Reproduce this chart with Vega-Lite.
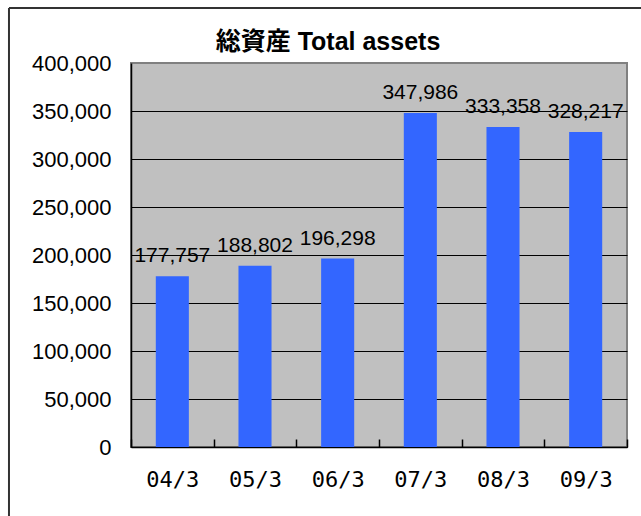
{
  "$schema": "https://vega.github.io/schema/vega-lite/v6.json",
  "width": 496,
  "height": 384,
  "autosize": "none",
  "padding": {"left": 131, "top": 63, "right": 14, "bottom": 69},
  "background": "white",
  "title": {
    "text": "総資産 Total assets",
    "font": "Liberation Sans, Noto Sans CJK JP",
    "fontSize": 25,
    "fontWeight": "bold",
    "color": "black",
    "anchor": "middle",
    "frame": "group",
    "dx": -51,
    "offset": -48
  },
  "datasets": {
    "assets": [
      {"period": "04/3", "value": 177757},
      {"period": "05/3", "value": 188802},
      {"period": "06/3", "value": 196298},
      {"period": "07/3", "value": 347986},
      {"period": "08/3", "value": 333358},
      {"period": "09/3", "value": 328217}
    ]
  },
  "config": {
    "view": {"fill": "#C0C0C0", "stroke": "#808080", "strokeWidth": 2}
  },
  "layer": [
    {
      "data": {"name": "assets"},
      "layer": [
        {
          "mark": {"type": "bar", "color": "#3366FF", "width": {"band": 0.4}},
          "encoding": {
            "x": {
              "field": "period",
              "type": "ordinal",
              "scale": {"paddingInner": 0, "paddingOuter": 0},
              "axis": {
                "title": null,
                "labelAngle": 0,
                "labelFont": "DejaVu Sans Mono",
                "labelFontSize": 22,
                "labelColor": "black",
                "labelBaseline": "alphabetic",
                "labelPadding": 47,
                "tickBand": "extent",
                "tickSize": -8,
                "tickColor": "black",
                "tickWidth": 1.5,
                "domainColor": "black",
                "domainWidth": 1.5,
                "grid": false
              }
            },
            "y": {
              "field": "value",
              "type": "quantitative",
              "scale": {"domain": [0, 400000], "nice": false, "zero": true},
              "axis": {
                "title": null,
                "values": [0, 50000, 100000, 150000, 200000, 250000, 300000, 350000, 400000],
                "format": ",d",
                "labelFont": "Liberation Sans",
                "labelFontSize": 22,
                "labelColor": "black",
                "labelPadding": 20,
                "ticks": false,
                "domainColor": "black",
                "domainWidth": 1.5,
                "grid": true,
                "gridColor": {"condition": {"test": "datum.value === 400000", "value": "#808080"}, "value": "black"},
                "gridWidth": 1,
                "gridOpacity": 1
              }
            }
          }
        },
        {
          "mark": {"type": "text", "font": "Liberation Sans", "fontSize": 21, "color": "black", "baseline": "alphabetic", "align": "center", "dy": -14},
          "encoding": {
            "x": {"field": "period", "type": "ordinal"},
            "y": {"field": "value", "type": "quantitative"},
            "text": {"field": "value", "type": "quantitative", "format": ",d"}
          }
        }
      ]
    },
    {
      "data": {"values": [{}]},
      "mark": {"type": "rule", "color": "#333333", "strokeWidth": 2},
      "encoding": {
        "x": {"datum": -0.246, "type": "quantitative", "scale": {"domain": [0, 1], "nice": false, "zero": false}, "axis": null},
        "x2": {"datum": 1.2},
        "y": {"datum": 1.1432, "type": "quantitative", "scale": {"domain": [0, 1], "nice": false, "zero": false}, "axis": null}
      }
    },
    {
      "data": {"values": [{}]},
      "mark": {"type": "rule", "color": "#333333", "strokeWidth": 2},
      "encoding": {
        "x": {"datum": -0.246, "type": "quantitative", "scale": {"domain": [0, 1], "nice": false, "zero": false}, "axis": null},
        "y": {"datum": 1.1432, "type": "quantitative", "scale": {"domain": [0, 1], "nice": false, "zero": false}, "axis": null},
        "y2": {"datum": -0.3}
      }
    }
  ],
  "resolve": {"scale": {"x": "independent", "y": "independent"}}
}
